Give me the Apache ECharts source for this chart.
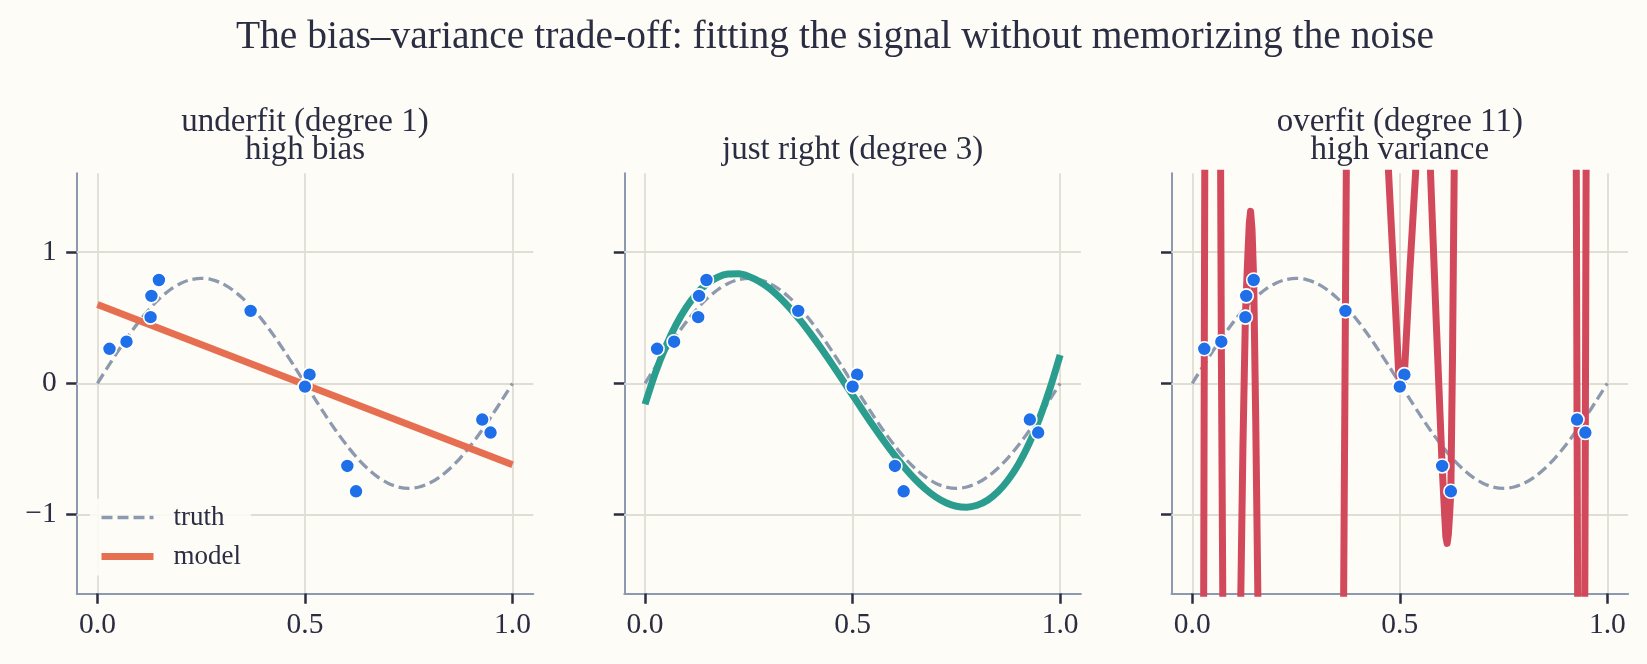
<!DOCTYPE html>
<html>
<head>
<meta charset="utf-8">
<script src="https://cdn.jsdelivr.net/npm/echarts@6/dist/echarts.min.js"></script>
<style>
html,body{margin:0;padding:0;background:#fdfcf6;}
#chart{width:1647px;height:664px;}
</style>
</head>
<body>
<div id="chart"></div>
<script>
// ---- data ----
const mainTitle = 'The bias\u2013variance trade-off: fitting the signal without memorizing the noise';
const panelTitles = ['underfit (degree 1)\nhigh bias', 'just right (degree 3)', 'overfit (degree 11)\nhigh variance'];

const sampleX = [0.029, 0.070, 0.128, 0.130, 0.148, 0.369, 0.511, 0.500, 0.602, 0.623, 0.927, 0.947];
const sampleY = [0.263, 0.317, 0.504, 0.666, 0.787, 0.552, 0.066, -0.025, -0.630, -0.823, -0.276, -0.375];

const curveX = [0, 0.025, 0.05, 0.075, 0.10, 0.125, 0.15, 0.175, 0.20, 0.225, 0.25, 0.275, 0.30, 0.325, 0.35, 0.375, 0.40, 0.425, 0.45, 0.475, 0.50,
                0.525, 0.55, 0.575, 0.60, 0.625, 0.65, 0.675, 0.70, 0.725, 0.75, 0.775, 0.80, 0.825, 0.85, 0.875, 0.90, 0.925, 0.95, 0.975, 1.00];
const truthY = [0, 0.125, 0.247, 0.363, 0.470, 0.566, 0.647, 0.713, 0.761, 0.790, 0.800, 0.790, 0.761, 0.713, 0.647, 0.566, 0.470, 0.363, 0.247, 0.125, 0,
                -0.125, -0.247, -0.363, -0.470, -0.566, -0.647, -0.713, -0.761, -0.790, -0.800, -0.790, -0.761, -0.713, -0.647, -0.566, -0.470, -0.363, -0.247, -0.125, 0];
const cubicY = [-0.160, 0.081, 0.282, 0.448, 0.581, 0.685, 0.760, 0.808, 0.832, 0.834, 0.814, 0.776, 0.722, 0.652, 0.569, 0.476, 0.373, 0.263, 0.148, 0.030, -0.090,
                -0.209, -0.326, -0.438, -0.544, -0.641, -0.729, -0.804, -0.865, -0.910, -0.937, -0.944, -0.929, -0.891, -0.827, -0.735, -0.614, -0.461, -0.270, -0.045, 0.215];

const linearX = [0, 1];
const linearY = [0.60, -0.62];

const overfitX = [0.000, 0.012, 0.024, 0.029, 0.034, 0.045, 0.052, 0.066, 0.070, 0.077, 0.090, 0.105, 0.112, 0.117, 0.122, 0.128, 0.130, 0.134, 0.1375, 0.1405, 0.144, 0.148, 0.153, 0.158, 0.165, 0.260, 0.355, 0.361, 0.369, 0.377, 0.390, 0.420, 0.458, 0.465, 0.473, 0.486, 0.497, 0.500, 0.504, 0.507, 0.511, 0.524, 0.538, 0.546, 0.556, 0.566, 0.574, 0.588, 0.602, 0.608, 0.611, 0.614, 0.617, 0.620, 0.623, 0.627, 0.631, 0.638, 0.650, 0.780, 0.905, 0.922, 0.927, 0.932, 0.937, 0.942, 0.947, 0.952, 0.965, 1.000];
const overfitY = [-60, -20, -6, 0.263, 6, 30, 30, 3.5, 0.317, -3.5, -30, -30, -6, -1.6, -0.5, 0.504, 0.666, 0.98, 1.22, 1.31, 1.17, 0.787, -0.30, -1.6, -5, -80, -10, -3.5, 0.552, 4.5, 20, 60, 8, 2.2, 1.6, 0.8, 0.10, -0.025, -0.05, -0.03, 0.066, 0.85, 1.6, 2.6, 10, 2.8, 1.6, 0.45, -0.630, -1.0, -1.17, -1.22, -1.15, -1.0, -0.823, 0.2, 1.6, 4.5, 25, 300, 25, 5, -0.276, -5, -20, -5, -0.375, 5, 30, 400];

const xTicks = [0, 0.5, 1];
const yTicks = [-1, 0, 1];
const xRange = [-0.05, 1.05];
const yRange = [-1.6, 1.6];

// ---- styling ----
const INK = '#2b2d42';
const SPINE = '#8d99ae';
const GRID = '#e0ded4';
const BG = '#fdfcf6';
const FONT = "'Liberation Serif', 'DejaVu Serif', serif";
const modelColors = ['#e76f51', '#2a9d8f', '#d1495b'];
const modelNames = ['model', 'degree 3 fit', 'degree 11 fit'];

const zip = (a, b) => a.map((v, i) => [v, b[i]]);
const fmtX = v => v.toFixed(1);
const fmtY = v => (v < 0 ? '\u2212' + Math.abs(v) : String(v));

const gridLefts = [76.7, 624.3, 1171.5];
const grids = gridLefts.map(l => ({left: l, top: 173.3, width: 456.6, height: 420}));

const xAxes = grids.map((g, i) => ({
  gridIndex: i, type: 'value', min: xRange[0], max: xRange[1],
  axisLine: {show: true, onZero: false, lineStyle: {color: SPINE, width: 2}},
  axisTick: {show: true, customValues: xTicks, length: 10.5, lineStyle: {color: INK, width: 2.5}},
  axisLabel: {show: true, customValues: xTicks, formatter: fmtX, color: INK, fontFamily: FONT, fontSize: 29.5, margin: 17},
  splitLine: {show: false}
}));
const yAxes = grids.map((g, i) => ({
  gridIndex: i, type: 'value', min: yRange[0], max: yRange[1],
  axisLine: {show: true, onZero: false, lineStyle: {color: SPINE, width: 2}},
  axisTick: {show: true, customValues: yTicks, length: 10.5, lineStyle: {color: INK, width: 2.5}},
  axisLabel: {show: i === 0, customValues: yTicks, formatter: fmtY, color: INK, fontFamily: FONT, fontSize: 29.5, margin: 20},
  splitLine: {show: false}
}));

const modelData = [zip(linearX, linearY), zip(curveX, cubicY), zip(overfitX, overfitY)];
const series = [];
grids.forEach((g, i) => {
  series.push({
    type: 'line', xAxisIndex: i, yAxisIndex: i, data: [], z: 1, silent: true,
    markLine: {
      z: 1, silent: true, symbol: 'none', animation: false,
      label: {show: false},
      lineStyle: {color: GRID, width: 1.8, type: 'solid'},
      emphasis: {disabled: true},
      data: yTicks.map(v => ({yAxis: v})).concat(xTicks.map(v => ({xAxis: v})))
    }
  });
  series.push({
    name: 'truth', type: 'line', xAxisIndex: i, yAxisIndex: i, z: 2,
    data: zip(curveX, truthY), smooth: 0.3, symbol: 'none',
    lineStyle: {color: SPINE, width: 3.3, type: [11, 5]}, itemStyle: {color: SPINE}
  });
  series.push({
    name: modelNames[i], type: 'line', xAxisIndex: i, yAxisIndex: i, z: 3,
    data: modelData[i], smooth: i === 1 ? 0.3 : false, symbol: 'none', clip: true,
    lineStyle: {color: modelColors[i], width: 7, cap: 'butt', join: 'round'}, itemStyle: {color: modelColors[i]}
  });
  series.push({
    name: 'samples', type: 'scatter', xAxisIndex: i, yAxisIndex: i, z: 4,
    data: zip(sampleX, sampleY), symbolSize: 14,
    itemStyle: {color: '#1f6fe8', borderColor: '#ffffff', borderWidth: 1.6, opacity: 1}
  });
});

const centers = grids.map(g => g.left + g.width / 2 - 5);
const titles = [{
  text: mainTitle, left: 830, top: 13, textAlign: 'center',
  textStyle: {color: INK, fontFamily: FONT, fontSize: 39.5, fontWeight: 'normal', lineHeight: 40}
}].concat(panelTitles.map((t, i) => ({
  text: t, left: centers[i], top: t.indexOf('\n') >= 0 ? 103 : 131.5, textAlign: 'center',
  textStyle: {color: INK, fontFamily: FONT, fontSize: 33, fontWeight: 'normal', lineHeight: 28.5, align: 'center'}
})));

const chart = echarts.init(document.getElementById('chart'), null, {renderer: 'canvas'});
chart.setOption({
  backgroundColor: BG,
  animation: false,
  title: titles,
  grid: grids,
  xAxis: xAxes,
  yAxis: yAxes,
  legend: {
    data: ['truth', 'model'], orient: 'vertical', left: 90, top: 498.5, padding: [5, 10, 5, 8],
    z: 6,
    backgroundColor: 'rgba(253,252,246,0.88)',
    itemWidth: 52, itemHeight: 14, itemGap: 11, selectedMode: false,
    itemStyle: {opacity: 0},
    lineStyle: {width: 'inherit', type: 'inherit'},
    textStyle: {color: INK, fontFamily: FONT, fontSize: 27, lineHeight: 28, padding: [0, 0, 0, 15]}
  },
  series: series
});
</script>
</body>
</html>
